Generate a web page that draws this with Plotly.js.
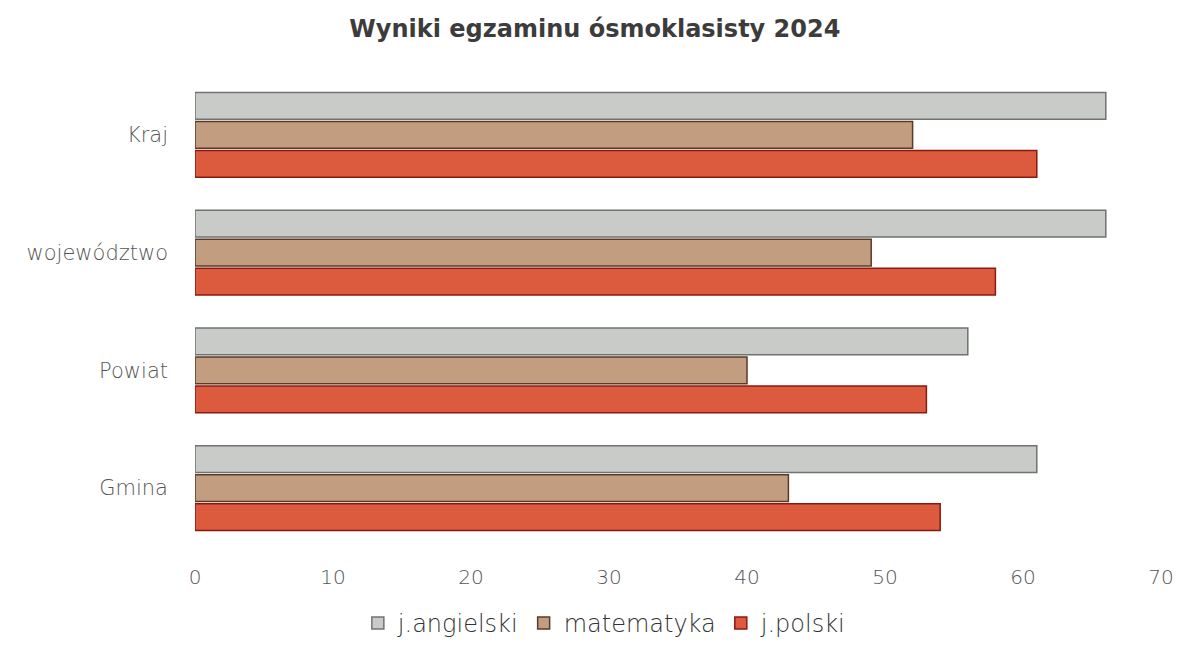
<!DOCTYPE html>
<html>
<head>
<meta charset="utf-8">
<script src="https://cdn.plot.ly/plotly-3.0.1.min.js"></script>
<style>html,body{margin:0;padding:0;background:#fff;}#chart{width:1185px;height:646px;}</style>
</head>
<body>
<div id="chart"></div>
<script>
const categories = ["Kraj", "województwo", "Powiat", "Gmina"];
const seriesNames = ["j.angielski", "matematyka", "j.polski"];
const angielski = [66, 66, 56, 61];
const matematyka = [52, 49, 40, 43];
const polski = [61, 58, 53, 54];
const xTicks = [0, 10, 20, 30, 40, 50, 60, 70];

const fills = ["#c9cbc8", "#c29d7f", "#dc5a3e"];
const edges = ["#6f7370", "#5a3a28", "#8a1a10"];
const values = [angielski, matematyka, polski];

const FONT = "'DejaVu Sans', Verdana, sans-serif";

const traces = values.map((v, i) => ({
  type: "bar",
  orientation: "h",
  name: seriesNames[i],
  y: categories,
  x: v,
  marker: { color: fills[i], line: { color: edges[i], width: 1.5 } },
  hoverinfo: "x+y+name"
}));

const layout = {
  width: 1185, height: 646,
  paper_bgcolor: "#ffffff", plot_bgcolor: "#ffffff",
  margin: { l: 195, r: 24, t: 76, b: 99 },
  title: { text: "<b>Wyniki egzaminu ósmoklasisty 2024</b>", x: 0.502, xanchor: "center", y: 0.955, yanchor: "middle",
           font: { family: FONT, size: 24, color: "#3c3c3c" } },
  barmode: "group",
  bargap: 0.26,
  bargroupgap: 0.08,
  xaxis: {
    range: [0, 70], tickvals: xTicks, ticktext: xTicks.map(String),
    showgrid: false, zeroline: false, showline: false, ticks: "",
    ticklabelstandoff: 16,
    tickfont: { family: FONT, size: 20, weight: 200, color: "#555" }
  },
  yaxis: {
    autorange: "reversed", showgrid: false, zeroline: false, showline: false, ticks: "",
    ticklabelstandoff: 26,
    tickfont: { family: FONT, size: 21, weight: 200, color: "#555" }
  },
  showlegend: true,
  legend: {
    orientation: "h", xref: "container", yref: "container", x: 0.51, xanchor: "center", y: 0.035, yanchor: "middle",
    font: { family: FONT, size: 24, weight: 200, color: "#333" },
    itemwidth: 30, traceorder: "normal"
  }
};

Plotly.newPlot("chart", traces, layout, { displayModeBar: false, staticPlot: true });
</script>
</body>
</html>
